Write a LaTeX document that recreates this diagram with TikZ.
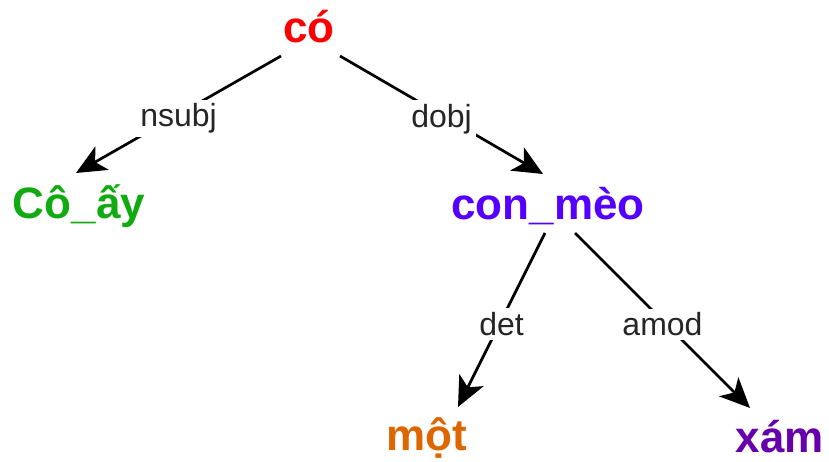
\documentclass[tikz,border=0pt]{standalone}
\usepackage{fontspec}
\setmainfont{Liberation Sans}
\usetikzlibrary{arrows.meta}

\definecolor{headred}{HTML}{FF0000}
\definecolor{subjgreen}{HTML}{11AA11}
\definecolor{objblue}{HTML}{5500FF}
\definecolor{detorange}{HTML}{DD6600}
\definecolor{amodpurple}{HTML}{6600AA}

\begin{document}
\begin{tikzpicture}[x=1pt,y=-1pt,
  word/.style={font=\bfseries\fontsize{44}{44}\selectfont, inner sep=0pt, anchor=base},
  rel/.style={font=\fontsize{32}{32}\selectfont, text=black!85, fill=white, inner sep=4pt, yshift=-4pt},
  dep/.style={line width=2.7pt, -{Stealth[length=30pt,width=27pt,inset=8pt]}}]
  \useasboundingbox (0,0) rectangle (829,462);

  % the words
  \node[word,text=headred] (co) at (309,43) {có};
  \node[word,text=subjgreen] (coay) at (79,219) {Cô\_ấy};
  \node[word,text=objblue] (conmeo) at (548,220) {con\_mèo};
  \node[word,text=detorange] (mot) at (427,450) {một};
  \node[word,text=amodpurple] (xam) at (780,452) {xám};

  % the dependencies
  \draw[dep] ([shift={(-28,13)}]co.base) -- node[rel] (nsubj) {nsubj} ([shift={(-3,-46)}]coay.base);
  \draw[dep] ([shift={(31,13)}]co.base) -- node[rel] (dobj) {dobj} ([shift={(-5,-46)}]conmeo.base);
  \draw[dep] ([shift={(-3,13)}]conmeo.base) -- node[rel] (det) {det} ([shift={(31,-43)}]mot.base);
  \draw[dep] ([shift={(27,13)}]conmeo.base) -- node[rel] (amod) {amod} ([shift={(-30,-44)}]xam.base);
\end{tikzpicture}
\end{document}
